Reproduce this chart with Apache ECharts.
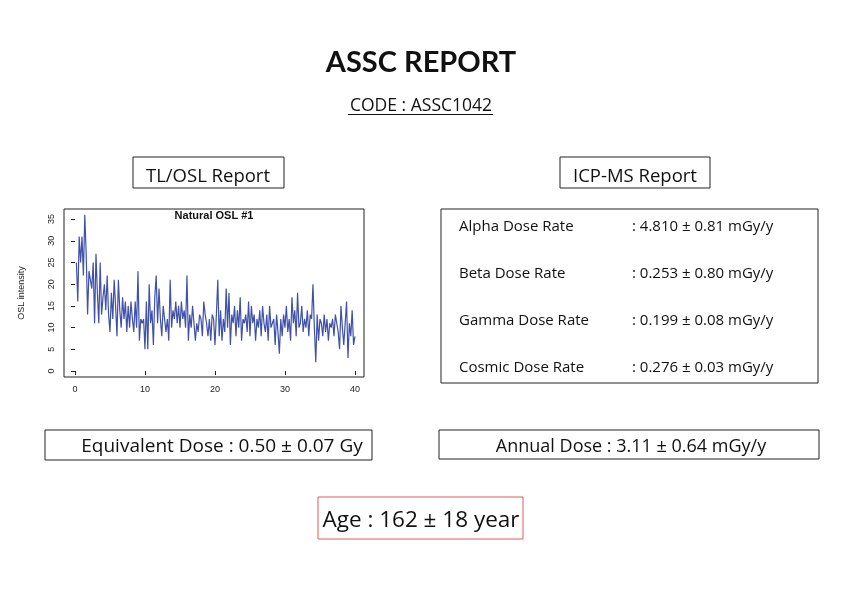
<!DOCTYPE html>
<html>
<head>
<meta charset="utf-8">
<script src="https://cdn.jsdelivr.net/npm/echarts@6/dist/echarts.min.js"></script>
<style>html,body{margin:0;padding:0;background:#fff}#main{width:842px;height:595px}</style>
</head>
<body>
<div id="main"></div>
<script>
// OSL signal, one point every 0.2 s from 0.2 to 40
var oslValues = [
  25,16,31,25,31,22,36,27,13,23,
  21,19,25,11,27,18,11,25,13,17,
  20,14,22,13,9,18,12,21,15,8,
  21,14,10,17,12,16,9,15,10,16,
  12,9,16,10,23,7,12,11,12,5,
  16,5,20,11,14,6,17,22,11,19,
  12,8,15,12,9,12,7,21,10,14,
  12,16,11,15,10,16,12,14,10,22,
  7,13,10,15,11,7,11,9,13,12,
  8,16,13,11,8,12,7,13,12,6,
  13,21,8,14,7,12,9,19,10,18,
  6,13,11,15,8,14,10,17,7,12,
  11,13,9,16,8,15,11,13,7,12,
  10,14,8,15,11,9,13,7,15,10,
  11,12,6,13,9,4,12,8,13,10,
  15,9,12,7,17,11,14,8,18,10,
  11,15,9,12,10,14,8,13,12,20,
  10,2,13,7,12,11,8,13,9,12,
  7,11,10,12,8,13,11,9,5,15,
  10,6,11,16,3,11,8,14,6,8
];
var xTicks = [0, 10, 20, 30, 40];
var yTicks = [0, 5, 10, 15, 20, 25, 30, 35];
var doseNames = ['Alpha Dose Rate', 'Beta Dose Rate', 'Gamma Dose Rate', 'Cosmic Dose Rate'];
var doseValues = [': 4.810 ± 0.81 mGy/y', ': 0.253 ± 0.80 mGy/y', ': 0.199 ± 0.08 mGy/y', ': 0.276 ± 0.03 mGy/y'];

var points = [];
for (var i = 0; i < oslValues.length; i++) {
  points.push([+(0.2 * (i + 1)).toFixed(1), oslValues[i]]);
}

var txtFont = '"Open Sans", "Noto Sans", sans-serif';
function box(x, y, w, h, color) {
  return {type: 'rect', shape: {x: x, y: y, width: w, height: h},
    style: {fill: 'none', stroke: color || '#222', lineWidth: 1}};
}
function label(x, y, text, size, opts) {
  opts = opts || {};
  return {type: 'text', x: x, y: y, style: {text: text, fontSize: size,
    fontFamily: opts.family || txtFont, fontWeight: opts.weight || 'normal',
    fill: '#111', align: opts.align || 'left', verticalAlign: 'middle'}};
}

var graphics = [
  label(421, 63, 'ASSC REPORT', 29, {align: 'center', weight: 'bold', family: '"Lato", sans-serif'}),
  label(421, 106, 'CODE : ASSC1042', 17.5, {align: 'center'}),
  {type: 'line', shape: {x1: 348, y1: 114.5, x2: 493, y2: 114.5}, style: {stroke: '#111', lineWidth: 1}},
  box(133, 157, 151, 31), label(208, 177, 'TL/OSL Report', 18.5, {align: 'center'}),
  box(560, 157, 150, 31), label(635, 177, 'ICP-MS Report', 18.5, {align: 'center'}),
  box(441, 209, 377, 174),
  box(45, 430, 327, 30), label(222, 447, 'Equivalent Dose : 0.50 ± 0.07 Gy', 19, {align: 'center'}),
  box(439, 430, 380, 29), label(631, 447, 'Annual Dose : 3.11 ± 0.64 mGy/y', 18, {align: 'center'}),
  box(318, 497, 205, 42, '#e05a5a'), label(421, 521, 'Age : 162 ± 18 year', 22.5, {align: 'center'}),
  label(214, 216, 'Natural OSL #1', 11, {align: 'center', weight: 'bold', family: '"Liberation Sans", sans-serif'})
];
for (var k = 0; k < doseNames.length; k++) {
  graphics.push(label(459, 227 + 47 * k, doseNames[k], 15));
  graphics.push(label(632, 227 + 47 * k, doseValues[k], 15));
}

var chart = echarts.init(document.getElementById('main'));
chart.setOption({
  backgroundColor: '#fff',
  animation: false,
  grid: {left: 64, top: 209, width: 300, height: 168, show: true, borderColor: '#222', borderWidth: 1, containLabel: false},
  xAxis: {
    type: 'value', min: -1.57, max: 41.29,
    axisLine: {show: false}, splitLine: {show: false},
    axisTick: {show: true, length: 4, lineStyle: {color: '#222'}, customValues: xTicks},
    axisLabel: {fontSize: 9, color: '#222', margin: 8, fontFamily: '"Liberation Sans", sans-serif', customValues: xTicks}
  },
  yAxis: {
    type: 'value', min: -1.38, max: 37.33,
    name: 'OSL intensity', nameLocation: 'middle', nameGap: 38, nameRotate: 90,
    nameTextStyle: {fontSize: 9, color: '#222', fontFamily: '"Liberation Sans", sans-serif'},
    axisLine: {show: false}, splitLine: {show: false},
    axisTick: {show: true, length: 4, lineStyle: {color: '#222'}, customValues: yTicks},
    axisLabel: {fontSize: 9, color: '#222', rotate: 90, margin: 8, fontFamily: '"Liberation Sans", sans-serif', customValues: yTicks}
  },
  series: [{
    type: 'line', data: points, showSymbol: false,
    lineStyle: {color: '#3f51a8', width: 1.2}
  }],
  graphic: graphics
});
</script>
</body>
</html>
